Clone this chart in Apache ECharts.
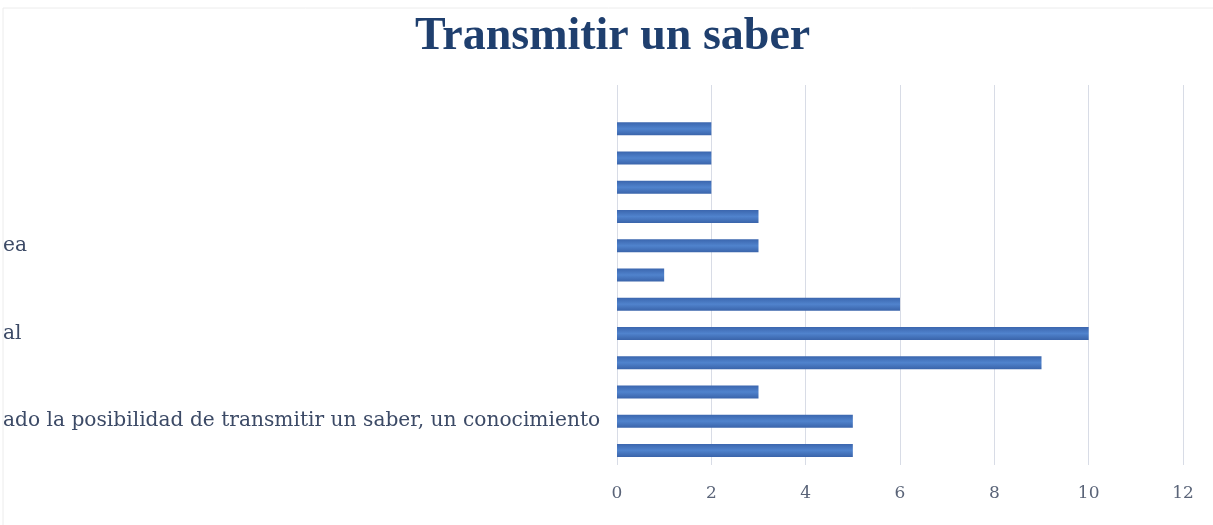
<!DOCTYPE html>
<html>
<head>
<meta charset="utf-8">
<script src="https://cdn.jsdelivr.net/npm/echarts@6/dist/echarts.min.js"></script>
<style>html,body{margin:0;padding:0;background:#fff;}#c{width:1213px;height:525px;}</style>
</head>
<body>
<div id="c"></div>
<script>
const titleText = 'Transmitir un saber';
const categories = ['', '', '', '', '', 'ea', '', '', 'al', '', '', 'ado la posibilidad de transmitir un saber, un conocimiento', ''];
const values = [null, 2, 2, 2, 3, 3, 1, 6, 10, 9, 3, 5, 5];
const xTicks = [0, 2, 4, 6, 8, 10, 12];

const chart = echarts.init(document.getElementById('c'));
chart.setOption({
  animation: false,
  backgroundColor: '#fff',
  title: {
    text: titleText,
    left: 410,
    top: 9,
    textStyle: { fontFamily: 'Liberation Serif', fontWeight: 'bold', fontSize: 46, color: '#1f3f6e' }
  },
  graphic: [{
    type: 'rect', shape: { x: 3, y: 8, width: 1240, height: 540 },
    style: { fill: 'none', stroke: '#ececec', lineWidth: 1 }, silent: true, z: -1
  }],
  grid: { left: 616, right: 30, top: 85, bottom: 60, containLabel: false },
  xAxis: {
    type: 'value', min: xTicks[0], max: xTicks[xTicks.length - 1], interval: 2,
    axisLine: { show: false }, axisTick: { show: false },
    splitLine: { show: true, lineStyle: { color: '#d8dce6', width: 1 } },
    axisLabel: { margin: 20, fontFamily: 'DejaVu Serif', fontSize: 17, color: '#5a6478' }
  },
  yAxis: {
    type: 'category', data: categories, inverse: true,
    axisLine: { show: false }, axisTick: { show: false },
    axisLabel: { align: 'left', margin: 614, fontFamily: 'DejaVu Serif', fontSize: 20.2, color: '#3c4a66', interval: 0, padding: [12, 0, 0, 0] }
  },
  series: [{
    type: 'bar', data: values, barWidth: 13,
    itemStyle: {
      color: new echarts.graphic.LinearGradient(0, 0, 0, 1, [
        { offset: 0, color: '#3b66ae' },
        { offset: 0.5, color: '#5083cd' },
        { offset: 1, color: '#3a64aa' }
      ])
    }
  }]
});
</script>
</body>
</html>
